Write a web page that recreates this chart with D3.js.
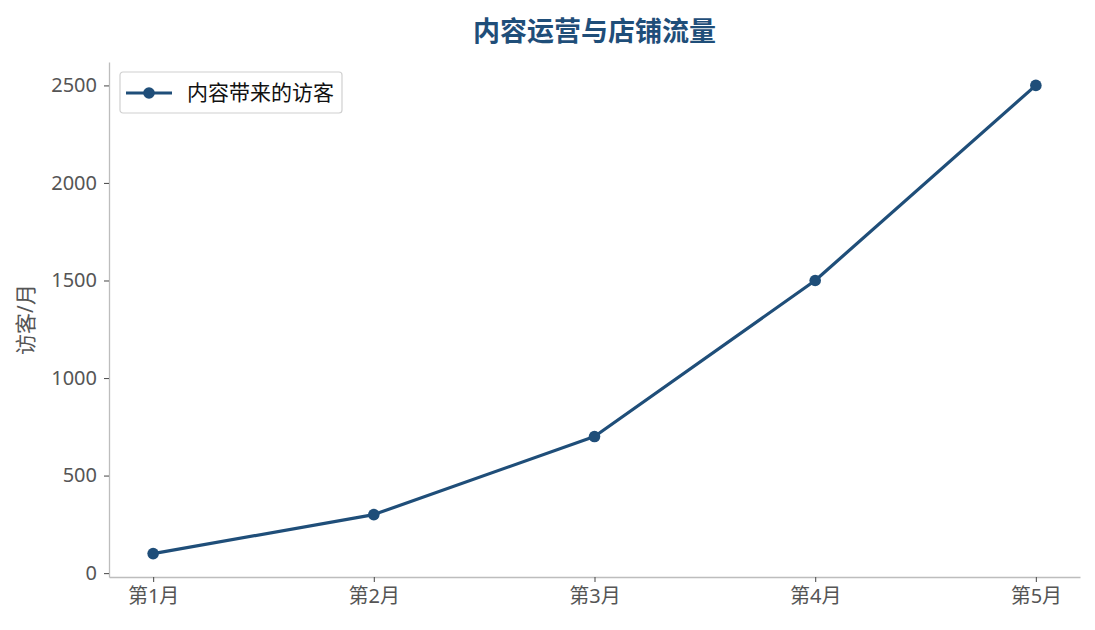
<!DOCTYPE html>
<html>
<head>
<meta charset="utf-8">
<script src="https://cdn.jsdelivr.net/npm/d3@7.9.0/dist/d3.min.js"></script>
<style>
  html, body { margin: 0; padding: 0; background: #fff; }
  svg text { font-family: "Noto Sans", "Noto Sans CJK SC", sans-serif; }
</style>
</head>
<body>
<div id="chart"></div>
<script>
// data
const months = ["第1月", "第2月", "第3月", "第4月", "第5月"];
const visitors = [100, 300, 700, 1500, 2500];
const yTicks = [0, 500, 1000, 1500, 2000, 2500];
const seriesName = "内容带来的访客";
const titleText = "内容运营与店铺流量";
const yLabel = "访客/月";

const width = 1095, height = 630;
const margin = { top: 62, right: 15, bottom: 53, left: 109 };
const lineColor = "#1f4e79";
const axisColor = "#bdbdbd";
const textColor = "#555";

const svg = d3.select("#chart").append("svg")
    .attr("width", width)
    .attr("height", height);

const innerW = width - margin.left - margin.right;
const innerH = height - margin.top - margin.bottom;

const g = svg.append("g")
    .attr("transform", `translate(${margin.left},${margin.top})`);

// x uses index positions with 5% padding like matplotlib
const x = d3.scaleLinear()
    .domain([-0.2, months.length - 1 + 0.2])
    .range([0, innerW]);

const yMin = d3.min(visitors), yMax = d3.max(visitors);
const pad = (yMax - yMin) * 0.05;
const y = d3.scaleLinear()
    .domain([yMin - pad, yMax + pad])
    .range([innerH, 0]);

// axes
const xAxis = g.append("g")
    .attr("transform", `translate(0,${innerH})`)
    .call(d3.axisBottom(x)
        .tickValues(d3.range(months.length))
        .tickFormat(i => months[i])
        .tickSizeInner(5)
        .tickSizeOuter(0)
        .tickPadding(7));

const yAxis = g.append("g")
    .call(d3.axisLeft(y)
        .tickValues(yTicks)
        .tickFormat(d3.format("d"))
        .tickSizeInner(5)
        .tickSizeOuter(0)
        .tickPadding(7));

[xAxis, yAxis].forEach(ax => {
    ax.select(".domain").attr("stroke", axisColor).attr("stroke-width", 1.3);
    ax.selectAll(".tick line").attr("stroke", textColor).attr("stroke-width", 1.1);
    ax.selectAll(".tick text")
        .attr("fill", textColor)
        .style("font-size", "20px");
});

// line
const line = d3.line()
    .x((d, i) => x(i))
    .y(d => y(d));

g.append("path")
    .datum(visitors)
    .attr("fill", "none")
    .attr("stroke", lineColor)
    .attr("stroke-width", 3.2)
    .attr("stroke-linejoin", "round")
    .attr("d", line);

g.selectAll(".dot")
    .data(visitors)
    .join("circle")
    .attr("cx", (d, i) => x(i))
    .attr("cy", d => y(d))
    .attr("r", 5.8)
    .attr("fill", lineColor);

// title
svg.append("text")
    .attr("x", margin.left + innerW / 2)
    .attr("y", 41)
    .attr("text-anchor", "middle")
    .attr("fill", lineColor)
    .style("font-size", "27px")
    .style("font-weight", "bold")
    .text(titleText);

// y label
svg.append("text")
    .attr("transform", `translate(33,${margin.top + innerH / 2}) rotate(-90)`)
    .attr("text-anchor", "middle")
    .attr("fill", textColor)
    .style("font-size", "21px")
    .text(yLabel);

// legend
const legend = g.append("g").attr("transform", "translate(11,10)");
legend.append("rect")
    .attr("width", 222)
    .attr("height", 41)
    .attr("rx", 3)
    .attr("fill", "#fff")
    .attr("stroke", "#d0d0d0")
    .attr("stroke-width", 1.2);
legend.append("line")
    .attr("x1", 6).attr("x2", 52)
    .attr("y1", 21).attr("y2", 21)
    .attr("stroke", lineColor)
    .attr("stroke-width", 3.2);
legend.append("circle")
    .attr("cx", 29).attr("cy", 21).attr("r", 5.8)
    .attr("fill", lineColor);
legend.append("text")
    .attr("x", 67).attr("y", 28)
    .attr("fill", "#111")
    .style("font-size", "21px")
    .text(seriesName);
</script>
</body>
</html>
